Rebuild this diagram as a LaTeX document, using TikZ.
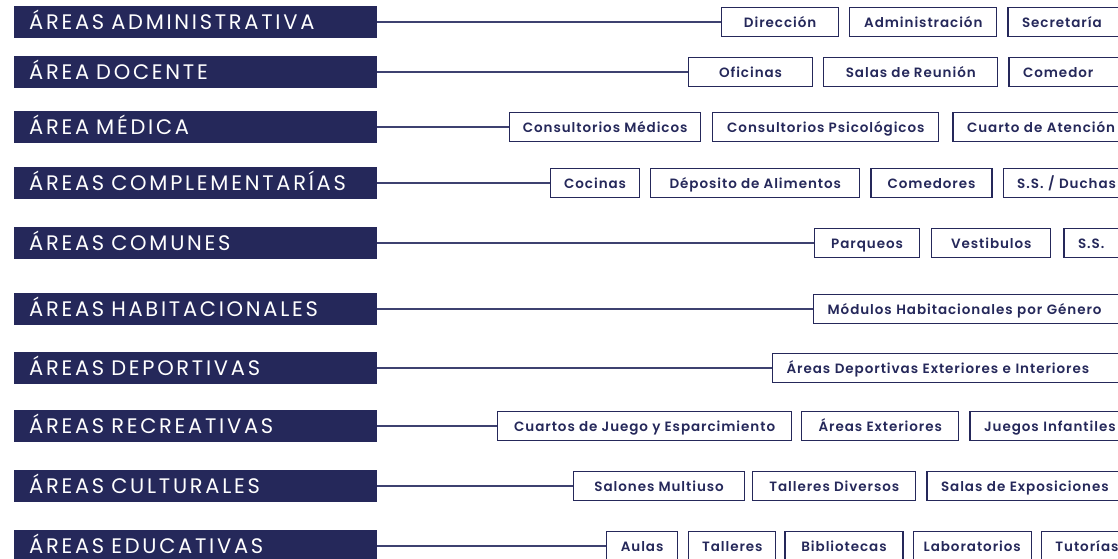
\documentclass[tikz,border=0pt]{standalone}
\usepackage{fontspec}
\usepackage{tikz}
\usetikzlibrary{positioning}
\newfontfamily\hdrfont[LetterSpace=13, WordSpace=1.8]{Poppins}
\newfontfamily\boxfont[LetterSpace=7, BoldFont={Poppins SemiBold}]{Poppins}
\definecolor{navy}{HTML}{25285A}
\definecolor{wire}{HTML}{3E4170}

\begin{document}
\begin{tikzpicture}[x=1pt, y=-1pt, node distance=10pt,
  area/.style={fill=navy, text=white, anchor=west, minimum height=32pt,
    text width=333pt, inner xsep=15pt, inner ysep=0pt, align=left,
    text height=15.5pt, text depth=0pt,
    font=\hdrfont\fontsize{21}{21}\selectfont},
  esp/.style={draw=navy, line width=1.2pt, text=navy, minimum height=29pt,
    minimum width=#1, inner xsep=6pt, inner ysep=0pt,
    text height=11pt, text depth=0pt,
    font=\boxfont\bfseries\fontsize{13.5}{13.5}\selectfont},
  esp/.default=0pt,
  tail/.style={esp, text width=360pt, align=left, inner xsep=14pt},
  con/.style={draw=wire, line width=1.3pt}]
\useasboundingbox (0,0) rectangle (1118,558);
\clip (0,0) rectangle (1118,558);

% areas
\node[area] (adm) at (14,22) {ÁREAS ADMINISTRATIVA};
\node[area] (doc) at (14,72) {ÁREA DOCENTE};
\node[area] (med) at (14,127) {ÁREA MÉDICA};
\node[area] (cmp) at (14,183) {ÁREAS COMPLEMENTARÍAS};
\node[area] (com) at (14,243) {ÁREAS COMUNES};
\node[area] (hab) at (14,309) {ÁREAS HABITACIONALES};
\node[area] (dep) at (14,368) {ÁREAS DEPORTIVAS};
\node[area] (rec) at (14,426) {ÁREAS RECREATIVAS};
\node[area] (cul) at (14,486) {ÁREAS CULTURALES};
\node[area] (edu) at (14,546) {ÁREAS EDUCATIVAS};

% administrativa
\node[esp=117, anchor=west] (dir) at (721,22) {Dirección};
\node[esp=147, right=of dir] (admn) {Administración};
\node[tail, right=of admn] (sec) {Secretaría};
\draw[con] (adm) -- (dir);

% docente
\node[esp=124, anchor=west] (ofi) at (688,72) {Oficinas};
\node[esp=174, right=of ofi] (sal) {Salas de Reunión};
\node[tail, right=of sal] (cmd) {Comedor};
\draw[con] (doc) -- (ofi);

% medica
\node[esp=191, anchor=west] (cmed) at (509,127) {Consultorios Médicos};
\node[esp=226, right=11pt of cmed] (cpsi) {Consultorios Psicológicos};
\node[tail, right=13pt of cpsi] (cua) {Cuarto de Atención};
\draw[con] (med) -- (cmed);

% complementarias
\node[esp=89, anchor=west] (coc) at (550,183) {Cocinas};
\node[esp=209, right=of coc] (dal) {Déposito de Alimentos};
\node[esp=121, right=of dal] (cmds) {Comedores};
\node[tail, right=of cmds] (duc) {S.S. / Duchas};
\draw[con] (cmp) -- (coc);

% comunes
\node[esp=105, anchor=west] (par) at (814,243) {Parqueos};
\node[esp=119, right=11pt of par] (ves) {Vestibulos};
\node[tail, right=12pt of ves] (ss) {S.S.};
\draw[con] (com) -- (par);

% habitacionales
\node[tail, anchor=west] (mod) at (813,309) {Módulos Habitacionales por Género};
\draw[con] (hab) -- (mod);

% deportivas
\node[tail, anchor=west] (adi) at (772,368) {Áreas Deportivas Exteriores e Interiores};
\draw[con] (dep) -- (adi);

% recreativas
\node[esp=294, anchor=west] (cje) at (497,426) {Cuartos de Juego y Esparcimiento};
\node[esp=157, right=9pt of cje] (aex) {Áreas Exteriores};
\node[tail, right=of aex] (jin) {Juegos Infantiles};
\draw[con] (rec) -- (cje);

% culturales
\node[esp=171, anchor=west] (smu) at (573,486) {Salones Multiuso};
\node[esp=163, right=7pt of smu] (tdi) {Talleres Diversos};
\node[tail, right=of tdi] (sex) {Salas de Exposiciones};
\draw[con] (cul) -- (smu);

% educativas
\node[esp=71, anchor=west] (aul) at (606,546) {Aulas};
\node[esp=87, right=of aul] (tal) {Talleres};
\node[esp=118, right=8pt of tal] (bib) {Bibliotecas};
\node[esp=118, right=9pt of bib] (lab) {Laboratorios};
\node[tail, right=9pt of lab] (tut) {Tutorías};
\draw[con] (edu) -- (aul);
\end{tikzpicture}
\end{document}
